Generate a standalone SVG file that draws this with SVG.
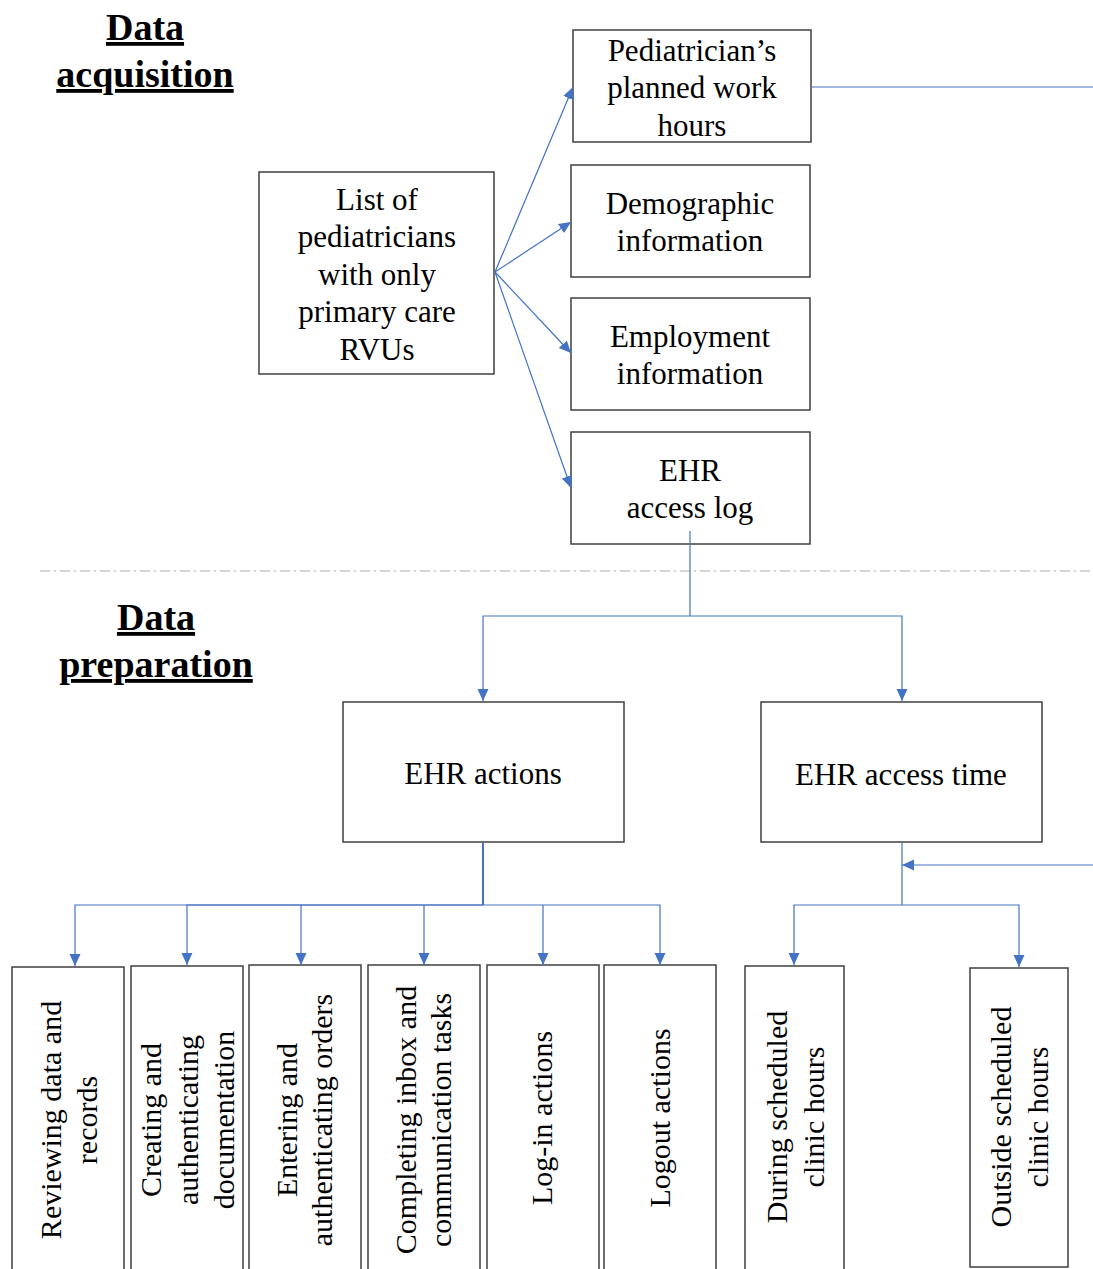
<svg xmlns="http://www.w3.org/2000/svg" width="1093" height="1269" viewBox="0 0 1093 1269">
<style>
.box{fill:#fff;stroke:#3f3f3f;stroke-width:1.5}
.t{font-family:"Liberation Serif","Times New Roman",serif;font-size:31px;fill:#000;text-anchor:middle}
.v{font-family:"Liberation Serif","Times New Roman",serif;font-size:30px;fill:#000;text-anchor:middle}
.h{font-family:"Liberation Serif","Times New Roman",serif;font-size:38px;font-weight:bold;fill:#000;text-anchor:middle;text-decoration:underline}
.c{fill:none;stroke:#4472C4;stroke-width:1.2}
</style>
<defs>
<marker id="ah" markerUnits="userSpaceOnUse" markerWidth="14" markerHeight="12" refX="12" refY="5.5" orient="auto">
<path d="M0,0 L12,5.5 L0,11 Z" fill="#4472C4"/>
</marker>
</defs>
<rect width="1093" height="1269" fill="#fff"/>

<g id="title-acquisition">
<text class="h" x="145" y="40">Data</text>
<text class="h" x="145" y="87">acquisition</text>
</g>
<g id="title-preparation">
<text class="h" x="156" y="630">Data</text>
<text class="h" x="156" y="677">preparation</text>
</g>

<line x1="40" y1="571" x2="1093" y2="571" stroke="#c8c8c8" stroke-width="1.5" stroke-dasharray="10 4 2 4"/>

<g id="node-planned-hours">
<rect class="box" x="573" y="30" width="238" height="112"/>
<text class="t" x="692" y="61">Pediatrician’s</text>
<text class="t" x="692" y="98">planned work</text>
<text class="t" x="692" y="136">hours</text>
</g>
<g id="node-demographic">
<rect class="box" x="571" y="165" width="239" height="112"/>
<text class="t" x="690" y="214">Demographic</text>
<text class="t" x="690" y="251">information</text>
</g>
<g id="node-employment">
<rect class="box" x="571" y="298" width="239" height="112"/>
<text class="t" x="690" y="347">Employment</text>
<text class="t" x="690" y="384">information</text>
</g>
<g id="node-access-log">
<rect class="box" x="571" y="432" width="239" height="112"/>
<text class="t" x="690" y="481">EHR</text>
<text class="t" x="690" y="518">access log</text>
</g>
<g id="node-list">
<rect class="box" x="259" y="172" width="235" height="202"/>
<text class="t" x="377" y="210">List of</text>
<text class="t" x="377" y="247">pediatricians</text>
<text class="t" x="377" y="285">with only</text>
<text class="t" x="377" y="322">primary care</text>
<text class="t" x="377" y="360">RVUs</text>
</g>
<g id="node-ehr-actions">
<rect class="box" x="343" y="702" width="281" height="140"/>
<text class="t" x="483" y="784">EHR actions</text>
</g>
<g id="node-ehr-time">
<rect class="box" x="761" y="702" width="281" height="140"/>
<text class="t" x="901" y="785">EHR access time</text>
</g>

<g id="node-reviewing">
<rect class="box" x="12" y="967" width="112" height="310"/>
<text class="v" transform="translate(61,1120) rotate(-90)"><tspan x="0" y="0">Reviewing data and</tspan><tspan x="0" dy="36">records</tspan></text>
</g>
<g id="node-creating">
<rect class="box" x="131" y="966" width="112" height="310"/>
<text class="v" transform="translate(161,1120) rotate(-90)"><tspan x="0" y="0">Creating and</tspan><tspan x="0" dy="36.5">authenticating</tspan><tspan x="0" dy="36.5">documentation</tspan></text>
</g>
<g id="node-entering">
<rect class="box" x="249" y="965" width="112" height="310"/>
<text class="v" transform="translate(297,1120) rotate(-90)"><tspan x="0" y="0">Entering and</tspan><tspan x="0" dy="35">authenticating orders</tspan></text>
</g>
<g id="node-completing">
<rect class="box" x="368" y="965" width="112" height="310"/>
<text class="v" transform="translate(416,1120) rotate(-90)"><tspan x="0" y="0">Completing inbox and</tspan><tspan x="0" dy="35">communication tasks</tspan></text>
</g>
<g id="node-login">
<rect class="box" x="487" y="965" width="112" height="310"/>
<text class="v" transform="translate(552,1118) rotate(-90)">Log-in actions</text>
</g>
<g id="node-logout">
<rect class="box" x="604" y="965" width="112" height="310"/>
<text class="v" transform="translate(670,1118) rotate(-90)">Logout actions</text>
</g>
<g id="node-during">
<rect class="box" x="745" y="966" width="99" height="310"/>
<text class="v" transform="translate(787,1117) rotate(-90)"><tspan x="0" y="0">During scheduled</tspan><tspan x="0" dy="37">clinic hours</tspan></text>
</g>
<g id="node-outside">
<rect class="box" x="970" y="968" width="98" height="299"/>
<text class="v" transform="translate(1011,1117) rotate(-90)"><tspan x="0" y="0">Outside scheduled</tspan><tspan x="0" dy="37">clinic hours</tspan></text>
</g>

<g id="connectors">
<line class="c" x1="495" y1="272" x2="573" y2="87" marker-end="url(#ah)"/>
<line class="c" x1="495" y1="272" x2="571" y2="222" marker-end="url(#ah)"/>
<line class="c" x1="495" y1="272" x2="571" y2="353" marker-end="url(#ah)"/>
<line class="c" x1="495" y1="272" x2="571" y2="488" marker-end="url(#ah)"/>
<line class="c" x1="811" y1="87" x2="1093" y2="87"/>
<polyline class="c" points="690,531 690,616"/>
<polyline class="c" points="690,616 483,616 483,701" marker-end="url(#ah)"/>
<polyline class="c" points="690,616 902,616 902,701" marker-end="url(#ah)"/>
<polyline class="c" points="483,843 483,905" style="stroke-width:2"/>
<polyline class="c" points="483,905 75,905 75,966" marker-end="url(#ah)"/>
<polyline class="c" points="483,905 187,905 187,965" marker-end="url(#ah)"/>
<polyline class="c" points="301,905 301,965" marker-end="url(#ah)"/>
<polyline class="c" points="424,905 424,965" marker-end="url(#ah)"/>
<polyline class="c" points="483,905 660,905 660,965" marker-end="url(#ah)"/>
<polyline class="c" points="543,905 543,965" marker-end="url(#ah)"/>
<line class="c" x1="1093" y1="865" x2="902" y2="865" marker-end="url(#ah)"/>
<polyline class="c" points="902,843 902,905"/>
<polyline class="c" points="902,905 794,905 794,965" marker-end="url(#ah)"/>
<polyline class="c" points="902,905 1019,905 1019,967" marker-end="url(#ah)"/>
</g>
</svg>
